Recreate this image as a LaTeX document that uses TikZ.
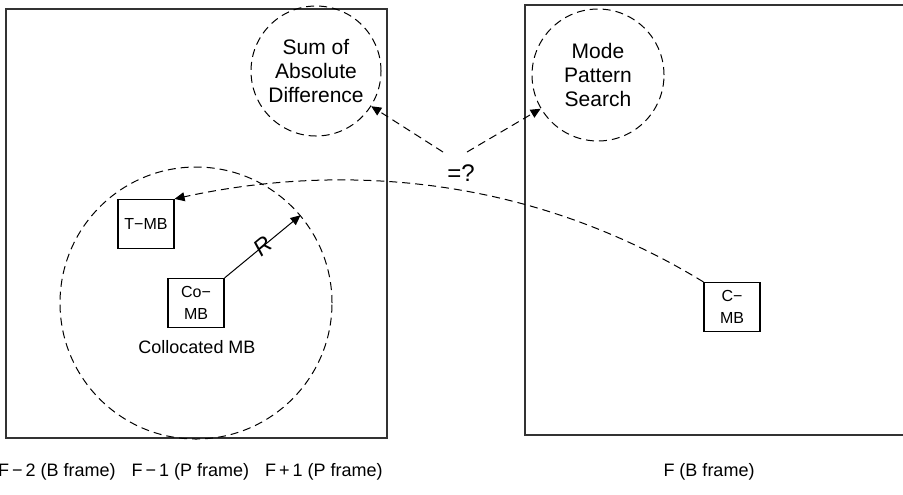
\documentclass[tikz,border=0pt]{standalone}
\usepackage{fontspec}
\setmainfont{Liberation Sans}
\usetikzlibrary{arrows.meta}

\begin{document}
\begin{tikzpicture}[x=0.5pt, y=-0.5pt, >={Triangle[length=5pt,width=4.5pt]},
  frame/.style={draw=black!80, line width=0.8pt},
  dashline/.style={dash pattern=on 4pt off 2.5pt, line width=0.5pt},
  ring/.style={circle, draw, dashline, inner sep=0pt, align=center, font=\fontsize{10.5}{12}\selectfont},
  mb/.style={draw, line width=0.6pt, minimum width=28pt, minimum height=24.5pt, inner sep=0pt, align=center, font=\fontsize{8}{11}\selectfont},
  framelbl/.style={inner sep=0pt, font=\fontsize{9}{11}\selectfont}]
\useasboundingbox (0,0) rectangle (903,494);
% the two frames
\draw[frame] (6,9) rectangle (387,438);
\draw[frame] (525,5) rectangle (912,435);

\node[ring, minimum size=136pt] (range) at (196,303) {};
\node[ring, minimum size=65pt] (sad) at (316,71) {Sum of\\Absolute\\Difference};
\node[ring, minimum size=66pt] (mode) at (598,75) {Mode\\Pattern\\Search};

\node[mb] (tmb) at (146,224) {T−MB};
\node[mb] (comb) at (196,303) {Co−\\MB};
\node[mb] (cmb) at (732,307) {C−\\MB};
\node[font=\fontsize{9}{11}\selectfont] (coll) at (197,347) {Collocated MB};

\node[font=\fontsize{12}{14}\selectfont] (eq) at (461,173) {=?};
\coordinate (eqleft) at (443,152);
\coordinate (eqright) at (467,152);

% frame labels
\node[framelbl, anchor=east] (prevlbl) at (383,472) {F\,−\,2 (B frame)\hspace{8pt}F\,−\,1 (P frame)\hspace{8pt}F\,+\,1 (P frame)};
\node[framelbl] (curlbl) at (709,472) {F (B frame)};

\draw[->, dashline] (cmb.north west) .. controls (520,170) and (330,165) .. (tmb.north east);
\draw[->, dashline] (eqleft) -- (sad);
\draw[->, dashline] (eqright) -- (mode);
\draw[->, line width=0.5pt] (comb.north east) -- node[sloped, font=\itshape\fontsize{11.5}{13}\selectfont] {R} (range.40);
\end{tikzpicture}
\end{document}
